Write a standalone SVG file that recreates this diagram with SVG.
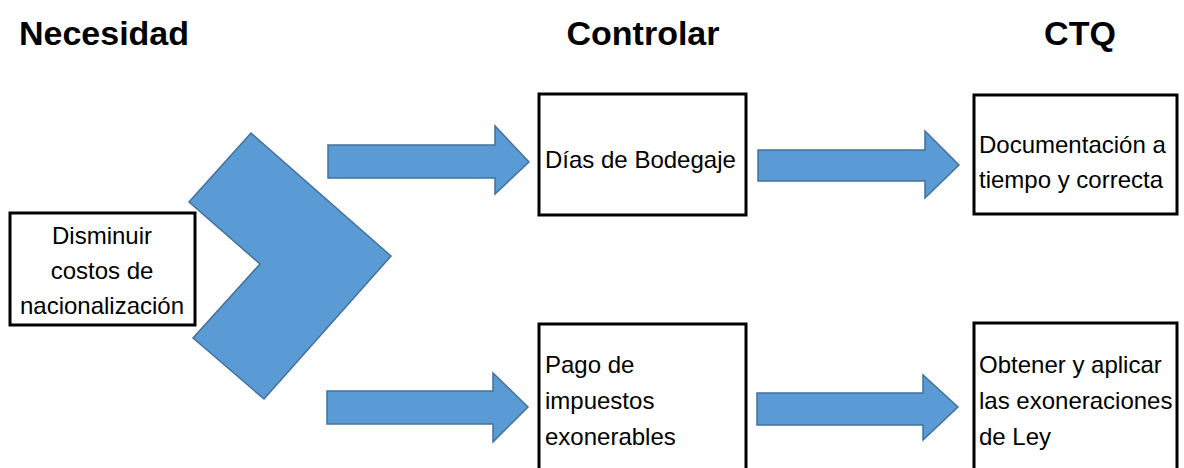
<svg xmlns="http://www.w3.org/2000/svg" width="1184" height="468" viewBox="0 0 1184 468">
<style>
.title{font-family:"Liberation Sans",Arial,sans-serif;font-weight:bold;font-size:34px;fill:#000}
.txt{font-family:"Liberation Sans",Arial,sans-serif;font-size:24px;fill:#000}
.box{fill:#fff;stroke:#000;stroke-width:3}
.arrow{fill:#5B9BD5;stroke:#41719C;stroke-width:1.5;stroke-linejoin:miter}
</style>
<rect width="1184" height="468" fill="#fff"/>
<g id="titles">
<text class="title" x="104" y="45" text-anchor="middle">Necesidad</text>
<text class="title" x="643" y="45" text-anchor="middle">Controlar</text>
<text class="title" x="1080" y="45" text-anchor="middle">CTQ</text>
</g>
<g id="connectors">
<polygon class="arrow" points="251,133 391,256 264,399 193,338 260,264 189,202"/>
<polygon class="arrow" points="328,145 495,145 495,126 529,162 495,194 495,178 328,178"/>
<polygon class="arrow" points="758,150 925,150 925,131 959,165 925,198 925,181 758,181"/>
<polygon class="arrow" points="327,391 493,391 493,373 528,407 493,442 493,424 327,424"/>
<polygon class="arrow" points="757,393 923,393 923,375 958,407 923,440 923,425 757,425"/>
</g>
<g id="n-necesidad">
<rect class="box" x="10" y="213" width="185" height="112"/>
<text class="txt" x="102" y="244" text-anchor="middle">Disminuir</text>
<text class="txt" x="102" y="279" text-anchor="middle">costos de</text>
<text class="txt" x="102" y="314" text-anchor="middle">nacionalización</text>
</g>
<g id="n-dias">
<rect class="box" x="539" y="94" width="207" height="121"/>
<text class="txt" x="545" y="168">Días de Bodegaje</text>
</g>
<g id="n-documentacion">
<rect class="box" x="974" y="95" width="203" height="119"/>
<text class="txt" x="979" y="153">Documentación a</text>
<text class="txt" x="979" y="188">tiempo y correcta</text>
</g>
<g id="n-pago">
<rect class="box" x="539" y="324" width="207" height="160"/>
<text class="txt" x="545" y="373">Pago de</text>
<text class="txt" x="545" y="409">impuestos</text>
<text class="txt" x="545" y="445">exonerables</text>
</g>
<g id="n-obtener">
<rect class="box" x="974" y="323" width="203" height="160"/>
<text class="txt" x="979" y="373">Obtener y aplicar</text>
<text class="txt" x="979" y="409">las exoneraciones</text>
<text class="txt" x="979" y="445">de Ley</text>
</g>
</svg>
